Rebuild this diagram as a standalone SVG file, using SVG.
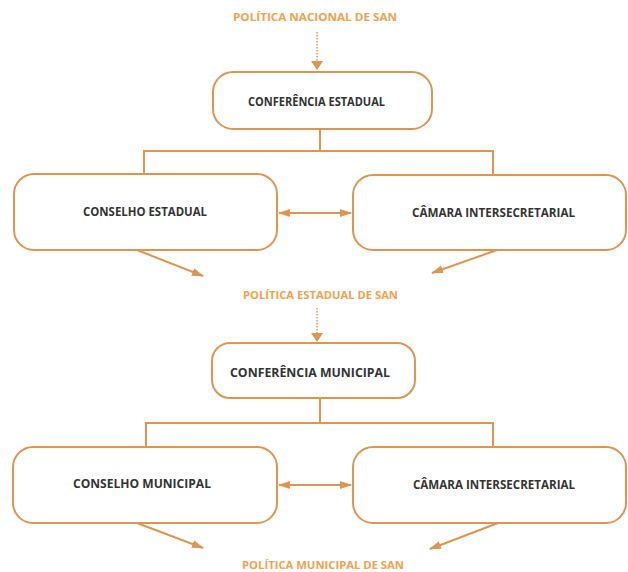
<svg xmlns="http://www.w3.org/2000/svg" width="628" height="572" viewBox="0 0 628 572">
<defs>
<style>
.box{fill:#fff;stroke:#DE9552;stroke-width:2}
.ln{fill:none;stroke:#DE9552;stroke-width:2}
.dot{fill:none;stroke:#DE9552;stroke-width:1.5;stroke-dasharray:1.5 1.5}
.t{font-family:"Open Sans","Liberation Sans",sans-serif;font-weight:bold;font-size:11.5px;fill:#333;text-anchor:middle}
.o{font-family:"Open Sans","Liberation Sans",sans-serif;font-weight:bold;font-size:11px;fill:#F0A24E;text-anchor:middle}
</style>
<marker id="ah2" viewBox="0 0 12 10" refX="11" refY="5" markerWidth="12" markerHeight="10" orient="auto-start-reverse" markerUnits="userSpaceOnUse">
<path d="M0,1 L12,5 L0,9 z" fill="#DE9552"/>
</marker>
</defs>
<g id="connectors">
<line class="dot" x1="317" y1="32" x2="317" y2="62"/>
<path d="M311,61 L323,61 L317,70 z" fill="#DE9552"/>
<path class="ln" d="M320,129 V151 M144,173 V151 H493 V175"/>
<line class="ln" x1="279" y1="213" x2="351" y2="213" marker-start="url(#ah2)" marker-end="url(#ah2)"/>
<line class="ln" x1="137" y1="250" x2="203" y2="276" marker-end="url(#ah2)"/>
<line class="ln" x1="497" y1="250" x2="432" y2="273" marker-end="url(#ah2)"/>
<line class="dot" x1="317" y1="308" x2="317" y2="334"/>
<path d="M311,333 L323,333 L317,342 z" fill="#DE9552"/>
<path class="ln" d="M320,398 V423 M146,447 V423 H493 V447"/>
<line class="ln" x1="279" y1="485" x2="351" y2="485" marker-start="url(#ah2)" marker-end="url(#ah2)"/>
<line class="ln" x1="137" y1="523" x2="203" y2="548" marker-end="url(#ah2)"/>
<line class="ln" x1="498" y1="523" x2="430" y2="549" marker-end="url(#ah2)"/>
</g>
<text class="o" x="315" y="21" textLength="164" lengthAdjust="spacingAndGlyphs">POLÍTICA NACIONAL DE SAN</text>
<g id="conf-estadual">
<rect class="box" x="213" y="72" width="219" height="57" rx="20"/>
<text class="t" x="316.5" y="106" textLength="137" lengthAdjust="spacingAndGlyphs">CONFERÊNCIA ESTADUAL</text>
</g>
<g id="conselho-estadual">
<rect class="box" x="14" y="174" width="263" height="76" rx="20"/>
<text class="t" x="145" y="216" textLength="124" lengthAdjust="spacingAndGlyphs">CONSELHO ESTADUAL</text>
</g>
<g id="camara-estadual">
<rect class="box" x="353" y="175" width="273" height="75" rx="20"/>
<text class="t" x="493.5" y="217" textLength="163" lengthAdjust="spacingAndGlyphs">CÂMARA INTERSECRETARIAL</text>
</g>
<text class="o" x="320.5" y="299" textLength="155" lengthAdjust="spacingAndGlyphs">POLÍTICA ESTADUAL DE SAN</text>
<g id="conf-municipal">
<rect class="box" x="212" y="343" width="203" height="55" rx="18"/>
<text class="t" x="310" y="377" textLength="160" lengthAdjust="spacingAndGlyphs">CONFERÊNCIA MUNICIPAL</text>
</g>
<g id="conselho-municipal">
<rect class="box" x="13" y="447" width="264" height="76" rx="20"/>
<text class="t" x="142" y="488" textLength="138" lengthAdjust="spacingAndGlyphs">CONSELHO MUNICIPAL</text>
</g>
<g id="camara-municipal">
<rect class="box" x="353" y="447" width="273" height="76" rx="20"/>
<text class="t" x="494" y="489" textLength="162" lengthAdjust="spacingAndGlyphs">CÂMARA INTERSECRETARIAL</text>
</g>
<text class="o" x="323" y="569" textLength="162" lengthAdjust="spacingAndGlyphs">POLÍTICA MUNICIPAL DE SAN</text>
</svg>
